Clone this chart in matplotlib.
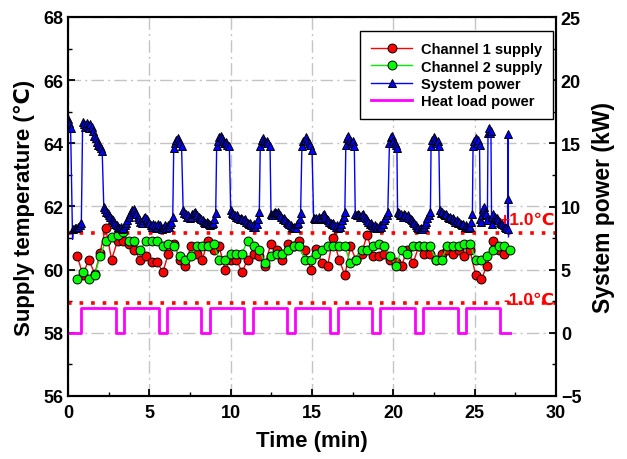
import matplotlib
matplotlib.use("Agg")
import matplotlib.pyplot as plt
from matplotlib.ticker import MultipleLocator

plt.rcParams['font.family'] = ['Liberation Sans', 'DejaVu Sans']

# ---------------- data ----------------
ch1_time = [0.57, 0.91, 1.28, 1.65, 1.97, 2.31, 2.68, 3.05, 3.39, 3.74, 4.08, 4.43, 4.79, 5.14, 5.48,
            5.83, 6.17, 6.52, 6.86, 7.20, 7.55, 7.92, 8.26, 8.60, 8.95, 9.29, 9.66, 10.00, 10.35, 10.70,
            11.04, 11.41, 11.75, 12.10, 12.47, 12.84, 13.18, 13.52, 13.87, 14.21, 14.56, 14.93, 15.27,
            15.61, 15.96, 16.30, 16.67, 17.02, 17.36, 17.70, 18.05, 18.39, 18.76, 19.10, 19.45, 19.79,
            20.14, 20.51, 20.85, 21.22, 21.56, 21.91, 22.25, 22.62, 22.97, 23.31, 23.65, 24.02, 24.37,
            24.71, 25.06, 25.42, 25.77, 26.11, 26.48, 26.83]
ch1_temp = [60.43, 59.84, 60.32, 59.86, 60.53, 61.33, 60.32, 60.92, 60.92, 60.82,
            60.62, 60.32, 60.43, 60.24, 60.24, 59.92, 60.51, 60.82, 60.32, 60.13,
            60.74, 60.51, 60.32, 60.92, 60.62, 60.74, 60.00, 60.32, 60.32, 59.92,
            60.32, 60.51, 60.43, 60.13, 60.82, 60.62, 60.32, 60.82, 60.74, 60.92,
            60.62, 60.00, 60.64, 60.21, 60.13, 61.00, 60.32, 59.82, 60.74, 60.32,
            60.51, 61.11, 60.43, 60.43, 60.51, 60.32, 60.24, 60.13, 60.62, 60.21,
            60.74, 60.51, 60.51, 60.32, 60.51, 60.62, 60.51, 60.62, 60.43, 60.62,
            59.84, 59.72, 60.13, 60.92, 60.62, 60.51]

ch2_time = ch1_time + [27.17]
ch2_temp = [59.72, 59.92, 59.72, 59.84, 60.43, 60.90, 61.03, 61.10, 61.20, 60.90,
            60.92, 60.62, 60.92, 60.92, 60.92, 60.74, 60.82, 60.74, 60.43, 60.32,
            60.43, 60.74, 60.74, 60.74, 60.82, 60.32, 60.32, 60.51, 60.51, 60.51,
            60.92, 60.74, 60.62, 60.21, 60.43, 60.51, 60.51, 60.62, 60.74, 60.74,
            60.32, 60.32, 60.51, 60.62, 60.74, 60.74, 60.74, 60.74, 60.21, 60.32,
            60.62, 60.62, 60.74, 60.82, 60.74, 60.43, 60.13, 60.62, 60.51, 60.74,
            60.74, 60.74, 60.74, 60.32, 60.32, 60.74, 60.74, 60.74, 60.82, 60.82,
            60.32, 60.32, 60.43, 60.62, 60.74, 60.74, 60.62]

pw_time = [0.00, 0.08, 0.16, 0.28, 0.33, 0.42, 0.52, 0.62, 0.72, 0.82,
           0.90, 0.98, 1.06, 1.14, 1.22, 1.30, 1.38, 1.46, 1.54, 1.62, 1.70, 1.78, 1.86, 1.94, 2.02, 2.10,
           2.20, 2.28, 2.36, 2.44, 2.52, 2.60, 2.68, 2.76, 2.84, 2.92, 3.00, 3.08, 3.16, 3.24, 3.32, 3.40,
           3.48, 3.56, 3.64, 3.72, 3.80, 3.88, 3.96, 4.04, 4.12, 4.20, 4.28, 4.36, 4.44, 4.52, 4.60, 4.68,
           4.76, 4.84, 4.92, 5.00, 5.08, 5.16, 5.24, 5.32, 5.40, 5.48, 5.56, 5.64, 5.72, 5.80, 5.88, 5.96,
           6.04, 6.12, 6.20, 6.28, 6.36, 6.44,
           6.50, 6.58, 6.66, 6.74, 6.82, 6.90, 6.98,
           7.08, 7.16, 7.24, 7.32, 7.40, 7.48, 7.56, 7.64, 7.72, 7.80, 7.88, 7.96, 8.04, 8.12, 8.20, 8.28,
           8.36, 8.44, 8.52, 8.60, 8.68, 8.76, 8.84, 8.92, 9.00, 9.08,
           9.14, 9.22, 9.30, 9.38, 9.46, 9.54, 9.62, 9.70, 9.80, 9.92,
           10.00, 10.08, 10.16, 10.24, 10.32, 10.40, 10.48, 10.56, 10.64, 10.72, 10.80, 10.88, 10.96,
           11.04, 11.12, 11.20, 11.28, 11.36, 11.44, 11.52, 11.60, 11.68, 11.76,
           11.82, 11.90, 11.98, 12.06, 12.14, 12.22, 12.32, 12.42,
           12.48, 12.56, 12.64, 12.72, 12.80, 12.88, 12.96, 13.04, 13.12, 13.20, 13.28, 13.36, 13.44,
           13.52, 13.60, 13.68, 13.76, 13.84, 13.92, 14.00, 14.08, 14.16, 14.24, 14.30,
           14.38, 14.46, 14.54, 14.62, 14.70, 14.80, 14.90, 15.00,
           15.10, 15.18, 15.26, 15.34, 15.42, 15.50, 15.58, 15.66, 15.74, 15.82, 15.90, 15.98, 16.06,
           16.14, 16.22, 16.30, 16.38, 16.46, 16.54, 16.62, 16.70, 16.78, 16.86, 16.94, 17.02,
           17.08, 17.16, 17.24, 17.32, 17.40, 17.50, 17.60,
           17.66, 17.74, 17.82, 17.90, 17.98, 18.06, 18.14, 18.22, 18.30, 18.38, 18.46, 18.54, 18.62,
           18.70, 18.78, 18.86, 18.94, 19.02, 19.10, 19.18, 19.26, 19.34, 19.42, 19.50, 19.58, 19.66,
           19.76, 19.84, 19.92, 20.00, 20.08, 20.16, 20.22,
           20.26, 20.34, 20.42, 20.50, 20.58, 20.66, 20.74, 20.82, 20.90, 20.98, 21.06, 21.14, 21.22,
           21.30, 21.38, 21.46, 21.54, 21.62, 21.70, 21.78, 21.86, 21.94, 22.02, 22.10, 22.18, 22.28,
           22.32, 22.40, 22.48, 22.56, 22.64, 22.72, 22.80,
           22.86, 22.94, 23.02, 23.10, 23.18, 23.26, 23.34, 23.42, 23.50, 23.58, 23.66, 23.74, 23.82,
           23.90, 23.98, 24.06, 24.14, 24.22, 24.30, 24.38, 24.46, 24.54, 24.62, 24.70, 24.78, 24.86,
           24.90, 24.98, 25.06, 25.14, 25.22, 25.30,
           25.34, 25.40, 25.46, 25.52, 25.58, 25.64, 25.72, 25.78,
           25.82, 25.88, 25.94, 26.00,
           26.04, 26.08, 26.14, 26.22, 26.30, 26.38, 26.46, 26.54, 26.62, 26.70, 26.78, 26.86, 26.94,
           27.02, 27.05, 27.07, 27.08]
pw_val = [16.9, 16.6, 16.2, 7.4, 8.2, 8.3, 8.3, 8.4, 8.5, 8.7,
          16.7, 16.5, 16.3, 16.6, 16.4, 16.2, 16.5, 16.3, 16.0, 15.6, 15.4, 15.1, 14.9, 14.8, 14.6, 14.4,
          10.0, 9.8, 9.6, 9.5, 9.3, 9.2, 9.0, 8.9, 8.8, 8.6, 8.5, 8.4, 8.3, 8.4, 8.2, 8.3,
          8.5, 8.7, 8.9, 9.2, 9.4, 9.6, 9.7, 9.8, 9.6, 9.4, 9.2, 9.0, 8.8, 8.7, 8.9, 9.1,
          9.2, 9.0, 8.8, 8.7, 8.5, 8.4, 8.6, 8.5, 8.3, 8.4, 8.6, 8.5, 8.3, 8.2, 8.4, 8.5,
          8.3, 8.5, 8.4, 8.6, 8.8, 9.2,
          14.6, 15.0, 15.3, 15.4, 15.2, 15.0, 14.8,
          9.7, 9.5, 9.4, 9.2, 9.3, 9.1, 9.2, 9.4, 9.5, 9.6, 9.4, 9.3, 9.2, 9.1, 9.0, 8.9,
          8.8, 8.7, 8.8, 8.7, 8.6, 8.5, 8.6, 8.7, 9.0, 9.5,
          14.8, 15.2, 15.5, 15.6, 15.4, 15.2, 15.0, 15.1, 14.9, 14.8,
          9.7, 9.5, 9.4, 9.3, 9.2, 9.3, 9.1, 9.0, 9.1, 9.0, 8.9, 9.0, 8.8,
          8.7, 8.6, 8.7, 8.5, 8.4, 8.6, 8.4, 8.6, 9.0, 9.6,
          14.8, 15.3, 15.4, 15.2, 15.0, 15.2, 15.0, 14.8,
          9.4, 9.3, 9.5, 9.6, 9.5, 9.6, 9.4, 9.3, 9.2, 9.0, 9.1, 8.9, 8.8,
          8.7, 8.6, 8.5, 8.4, 8.3, 8.4, 8.3, 8.6, 8.7, 9.0, 9.5,
          14.8, 15.2, 15.3, 15.5, 15.2, 15.0, 14.9, 14.5,
          9.1, 9.0, 9.1, 9.0, 9.2, 9.0, 9.1, 9.3, 9.4, 9.2, 9.0, 8.9, 8.8,
          8.7, 8.6, 8.7, 8.5, 8.4, 8.5, 8.3, 8.4, 8.6, 8.9, 9.2, 9.6,
          14.9, 15.4, 15.6, 15.3, 15.0, 15.2, 14.8,
          9.4, 9.3, 9.4, 9.3, 9.2, 9.3, 9.4, 9.2, 9.1, 8.9, 8.8, 8.6, 8.7,
          8.5, 8.4, 8.5, 8.3, 8.4, 8.3, 8.5, 8.4, 8.6, 8.9, 9.1, 9.3, 9.6,
          15.0, 15.5, 15.6, 15.2, 15.0, 14.9, 14.6,
          9.6, 9.5, 9.3, 9.4, 9.2, 9.4, 9.3, 9.2, 9.3, 9.1, 9.0, 8.9, 8.8,
          8.7, 8.5, 8.4, 8.3, 8.2, 8.3, 8.2, 8.4, 8.6, 8.8, 9.1, 9.3, 9.6,
          14.8, 15.3, 15.5, 15.3, 15.0, 15.2, 14.8,
          9.7, 9.5, 9.6, 9.4, 9.3, 9.4, 9.2, 9.1, 9.2, 9.0, 9.1, 8.9, 8.8,
          8.9, 8.7, 8.8, 8.6, 8.5, 8.6, 8.4, 8.5, 8.4, 8.3, 8.4, 8.8, 9.4,
          14.8, 15.2, 15.4, 15.0, 15.3, 14.9,
          9.0, 8.8, 9.3, 9.8, 10.0, 9.6, 9.4, 8.9,
          15.8, 16.2, 15.8, 16.0,
          8.6, 9.2, 9.4, 9.2, 9.0, 9.1, 8.9, 8.8, 8.7, 8.6, 8.5, 8.4, 8.3,
          8.2, 15.7, 10.6, 7.6]

hl_time = [0, 0.82, 2.95, 3.47, 5.57, 6.06, 8.18, 8.70, 10.85, 11.35, 13.45, 13.95,
           16.10, 16.60, 18.70, 19.20, 21.33, 21.85, 23.95, 24.47, 26.55, 27.20]
hl_val = [0, 2, 0, 2, 0, 2, 0, 2, 0, 2, 0, 2, 0, 2, 0, 2, 0, 2, 0, 2, 0, 0]

upper_limit = 61.15
lower_limit = 58.95
upper_text = "+1.0\u2103"
lower_text = "-1.0\u2103"

# ---------------- figure ----------------
fig = plt.figure(figsize=(6.27, 4.60), dpi=100)
ax = fig.add_axes([68 / 627, 1 - 397 / 460, 488 / 627, 379 / 460])
ax2 = ax.twinx()

grid_kw = dict(color='#c4c4c4', lw=1.0, linestyle=(0, (9, 3, 1.5, 3)))
ax.set_axisbelow(True)
ax.grid(True, which='major', **grid_kw)

ax.axhline(upper_limit, color='red', lw=2.6, linestyle=(0, (1, 2.2)), zorder=2)
ax.axhline(lower_limit, color='red', lw=2.6, linestyle=(0, (1, 2.2)), zorder=2)

l1, = ax.plot(ch1_time, ch1_temp, color='red', lw=1.0, marker='o', ms=6.4,
              mfc='red', mec='black', mew=0.7, label='Channel 1 supply', zorder=3)
l2, = ax.plot(ch2_time, ch2_temp, color='#00ee00', lw=1.0, marker='o', ms=6.4,
              mfc='#00ff00', mec='black', mew=0.7, label='Channel 2 supply', zorder=3)

marked = [i for i in range(len(pw_time)) if i not in (3, len(pw_time) - 1)]
l3, = ax2.plot(pw_time, pw_val, color='blue', lw=1.0, marker='^', ms=6.3,
               mfc='blue', mec='black', mew=0.7, markevery=marked, label='System power')
l4, = ax2.plot(hl_time, hl_val, color='#ff00ff', lw=2.0, drawstyle='steps-post',
               label='Heat load power')

ax.set_xlim(0, 30)
ax.set_ylim(56, 68)
ax2.set_ylim(-5, 25)

# limit annotations drawn on top of everything (in temperature coordinates)
ax2.text(29.9, upper_limit + 0.2, upper_text, color='red', fontsize=12.5,
         fontweight='bold', ha='right', va='bottom', zorder=6, transform=ax.transData)
ax2.text(29.9, lower_limit - 0.12, lower_text, color='red', fontsize=12.5,
         fontweight='bold', ha='right', va='bottom', zorder=6, transform=ax.transData)

ax.xaxis.set_major_locator(MultipleLocator(5))
ax.xaxis.set_minor_locator(MultipleLocator(2.5))
ax.yaxis.set_major_locator(MultipleLocator(2))
ax.yaxis.set_minor_locator(MultipleLocator(1))
ax2.yaxis.set_major_locator(MultipleLocator(5))
ax2.yaxis.set_minor_locator(MultipleLocator(2.5))

for a in (ax, ax2):
    a.tick_params(which='major', direction='in', length=5, width=1.3, labelsize=13)
    a.tick_params(which='minor', direction='in', length=3, width=1.0)
    for s in a.spines.values():
        s.set_linewidth(1.5)
for lab in ax.get_xticklabels() + ax.get_yticklabels() + ax2.get_yticklabels():
    lab.set_fontweight('bold')
ax.tick_params(axis='x', pad=6)

ax.set_xlabel('Time (min)', fontsize=16, fontweight='bold', labelpad=6)
ax.set_ylabel('Supply temperature (\u2103)', fontsize=16, fontweight='bold', labelpad=6)
ax2.set_ylabel('System power (kW)', fontsize=16.5, fontweight='bold', labelpad=8)

leg = ax2.legend(handles=[l1, l2, l3, l4], loc='upper right',
                 bbox_to_anchor=(0.994, 0.962), frameon=True,
                 fancybox=False, edgecolor='black', framealpha=1, borderaxespad=0,
                 handlelength=2.8, labelspacing=0.22, borderpad=0.75, handletextpad=0.6,
                 prop={'weight': 'bold', 'size': 10.5})
leg.get_frame().set_linewidth(1.0)
leg.set_zorder(10)

fig.savefig('out.png', dpi=100, facecolor='white')
